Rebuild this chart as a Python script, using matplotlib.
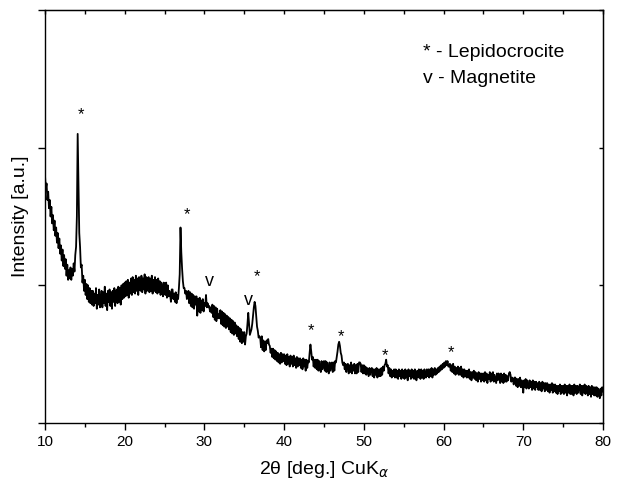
import numpy as np
import matplotlib
matplotlib.use('Agg')
import matplotlib.pyplot as plt
from matplotlib.ticker import MultipleLocator, NullFormatter

plt.rcParams['font.family'] = ['Liberation Sans', 'DejaVu Sans']

# XRD pattern, 0.1 deg steps from 10.0 to 80.0 (one row per degree)
intensity = [
    180, 170, 174, 162, 168, 156, 162, 150, 157, 145,   # 10
    151, 140, 147, 136, 142, 131, 138, 127, 134, 123,   # 11
    129, 118, 126, 114, 122, 112, 119, 107, 115, 104,   # 12
    111, 105, 113, 104, 112, 107, 116, 110, 122, 128,   # 13
    150, 210, 172, 138, 128, 113, 115, 102, 107, 96,    # 14
    104, 93, 101, 90, 100, 88, 98, 87, 96, 86,          # 15
    96, 85, 94, 87, 98, 83, 93, 86, 97, 84,             # 16
    86, 96, 84, 95, 87, 99, 85, 94, 82, 96,             # 17
    88, 97, 85, 95, 83, 96, 88, 98, 85, 95,             # 18
    97, 87, 99, 88, 98, 86, 100, 90, 101, 91,           # 19
    102, 92, 103, 93, 104, 91, 102, 94, 105, 93,        # 20
    106, 95, 104, 94, 107, 96, 105, 93, 106, 97,        # 21
    96, 107, 95, 105, 97, 108, 94, 106, 96, 105,        # 22
    106, 95, 105, 96, 107, 94, 104, 96, 106, 95,        # 23
    104, 94, 105, 95, 103, 93, 102, 98, 92, 102,        # 24
    101, 93, 102, 91, 100, 92, 96, 93, 88, 97,          # 25
    97, 90, 94, 88, 95, 87, 93, 90, 98, 108,            # 26
    142, 124, 112, 103, 98, 98, 94, 96, 90, 95,         # 27
    96, 87, 95, 85, 94, 84, 93, 83, 92, 86,             # 28
    92, 78, 90, 81, 91, 80, 89, 82, 90, 81,             # 29
    87, 85, 93, 84, 87, 84, 85, 81, 84, 80,             # 30
    86, 77, 85, 75, 84, 74, 83, 76, 79, 76,             # 31
    82, 72, 81, 71, 80, 70, 79, 69, 78, 70,             # 32
    77, 68, 76, 66, 75, 65, 74, 64, 73, 65,             # 33
    71, 63, 70, 61, 69, 59, 68, 58, 66, 59,             # 34
    66, 57, 63, 65, 72, 80, 72, 64, 66, 68,             # 35
    72, 78, 84, 88, 85, 77, 70, 67, 62, 63,             # 36
    62, 55, 63, 53, 60, 52, 59, 53, 60, 58,             # 37
    61, 57, 56, 51, 54, 48, 54, 47, 53, 46,             # 38
    52, 45, 51, 44, 50, 43, 51, 44, 50, 45,             # 39
    50, 43, 49, 42, 50, 43, 48, 41, 49, 43,             # 40
    48, 41, 49, 42, 47, 40, 48, 41, 47, 42,             # 41
    47, 40, 46, 39, 47, 41, 46, 38, 46, 40,             # 42
    45, 44, 51, 57, 52, 46, 48, 41, 46, 40,             # 43
    46, 39, 46, 38, 45, 40, 37, 45, 39, 44,             # 44
    45, 38, 45, 37, 44, 39, 36, 44, 38, 43,             # 45
    44, 37, 44, 38, 45, 44, 48, 52, 57, 59,             # 46
    56, 51, 49, 44, 42, 44, 39, 43, 37, 42,             # 47
    43, 36, 42, 37, 44, 36, 42, 38, 43, 36,             # 48
    42, 36, 43, 37, 44, 44, 43, 37, 42, 36,             # 49
    42, 36, 41, 35, 40, 37, 34, 40, 35, 39,             # 50
    40, 34, 39, 33, 39, 35, 40, 33, 39, 34,             # 51
    39, 34, 40, 35, 41, 38, 42, 43, 46, 41,             # 52
    42, 36, 40, 34, 39, 33, 38, 34, 39, 33,             # 53
    39, 33, 38, 32, 39, 34, 38, 32, 39, 33,             # 54
    38, 32, 39, 33, 38, 31, 39, 34, 38, 32,             # 55
    39, 33, 38, 32, 39, 34, 31, 38, 33, 39,             # 56
    38, 32, 39, 33, 38, 32, 39, 34, 33, 39,             # 57
    34, 39, 33, 39, 34, 40, 33, 39, 35, 40,             # 58
    35, 39, 36, 40, 37, 41, 38, 42, 39, 43,             # 59
    40, 44, 41, 45, 42, 45, 41, 41, 43, 38,             # 60
    42, 37, 43, 36, 41, 35, 40, 36, 41, 35,             # 61
    40, 35, 41, 34, 39, 33, 39, 34, 38, 33,             # 62
    38, 33, 39, 32, 37, 31, 37, 33, 38, 32,             # 63
    37, 31, 36, 30, 37, 32, 36, 30, 36, 31,             # 64
    36, 30, 37, 31, 36, 29, 35, 32, 37, 30,             # 65
    36, 31, 37, 30, 35, 32, 29, 36, 31, 36,             # 66
    35, 29, 36, 30, 35, 29, 36, 30, 35, 30,             # 67
    34, 31, 36, 37, 35, 30, 33, 32, 28, 33,             # 68
    33, 27, 32, 26, 32, 27, 33, 26, 31, 27,             # 69
    22, 31, 26, 32, 25, 31, 27, 25, 31, 26,             # 70
    30, 24, 31, 25, 30, 24, 30, 26, 29, 24,             # 71
    30, 24, 29, 23, 30, 25, 29, 23, 29, 24,             # 72
    29, 23, 28, 22, 28, 24, 29, 22, 28, 23,             # 73
    28, 22, 27, 21, 27, 23, 28, 21, 27, 22,             # 74
    27, 21, 28, 22, 27, 20, 27, 22, 28, 21,             # 75
    27, 21, 27, 20, 28, 22, 27, 21, 27, 22,             # 76
    26, 28, 21, 27, 20, 27, 22, 28, 21, 27,             # 77
    26, 20, 27, 21, 26, 19, 27, 21, 26, 20,             # 78
    26, 20, 26, 19, 25, 22, 18, 25, 20, 26,             # 79
    23,                                                 # 80
]
two_theta = np.round(np.arange(len(intensity)) * 0.1 + 10.0, 1)

# phase marks above the reflections
lepido_pos = [14.5, 27.8, 36.6, 43.4, 47.1, 52.7, 60.9]
lepido_y = [224, 151, 106, 67, 63, 49, 51]
magnet_pos = [30.6, 35.5]
magnet_y = [103, 89]

fig = plt.figure(figsize=(6.18, 4.87), dpi=100)
ax = fig.add_axes([0.0728, 0.1314, 0.9029, 0.8481])

ax.plot(two_theta, intensity, color='black', lw=1.3)

for x, y in zip(lepido_pos, lepido_y):
    ax.text(x, y, '*', ha='center', va='center', fontsize=12)
for x, y in zip(magnet_pos, magnet_y):
    ax.text(x, y, 'v', ha='center', va='center', fontsize=13)

ax.text(0.677, 0.896, '* - Lepidocrocite', transform=ax.transAxes,
        fontsize=14, va='center', ha='left')
ax.text(0.677, 0.835, 'v - Magnetite', transform=ax.transAxes,
        fontsize=14, va='center', ha='left')

ax.set_xlim(10, 80)
ax.set_ylim(0, 300)
ax.xaxis.set_major_locator(MultipleLocator(10))
ax.xaxis.set_minor_locator(MultipleLocator(5))
ax.yaxis.set_major_locator(MultipleLocator(100))
ax.yaxis.set_major_formatter(NullFormatter())
ax.tick_params(axis='both', which='major', direction='out', length=5, width=1,
               labelsize=11, top=False, right=False)
ax.tick_params(axis='x', which='minor', direction='out', length=3, width=1)

# mirrored short inward ticks on top / right
sec = ax.secondary_xaxis('top')
sec.xaxis.set_major_locator(MultipleLocator(5))
sec.tick_params(direction='in', length=3, width=1, labelsize=0)
sec.xaxis.set_major_formatter(NullFormatter())
sec_r = ax.secondary_yaxis('right')
sec_r.yaxis.set_major_locator(MultipleLocator(100))
sec_r.tick_params(direction='in', length=3, width=1)
sec_r.yaxis.set_major_formatter(NullFormatter())

for s in ax.spines.values():
    s.set_linewidth(1)

ax.set_xlabel(r'2θ [deg.] CuK$_\alpha$', fontsize=14, labelpad=7)
ax.set_ylabel('Intensity [a.u.]', fontsize=14, labelpad=3)

fig.savefig('out.png', dpi=100)
